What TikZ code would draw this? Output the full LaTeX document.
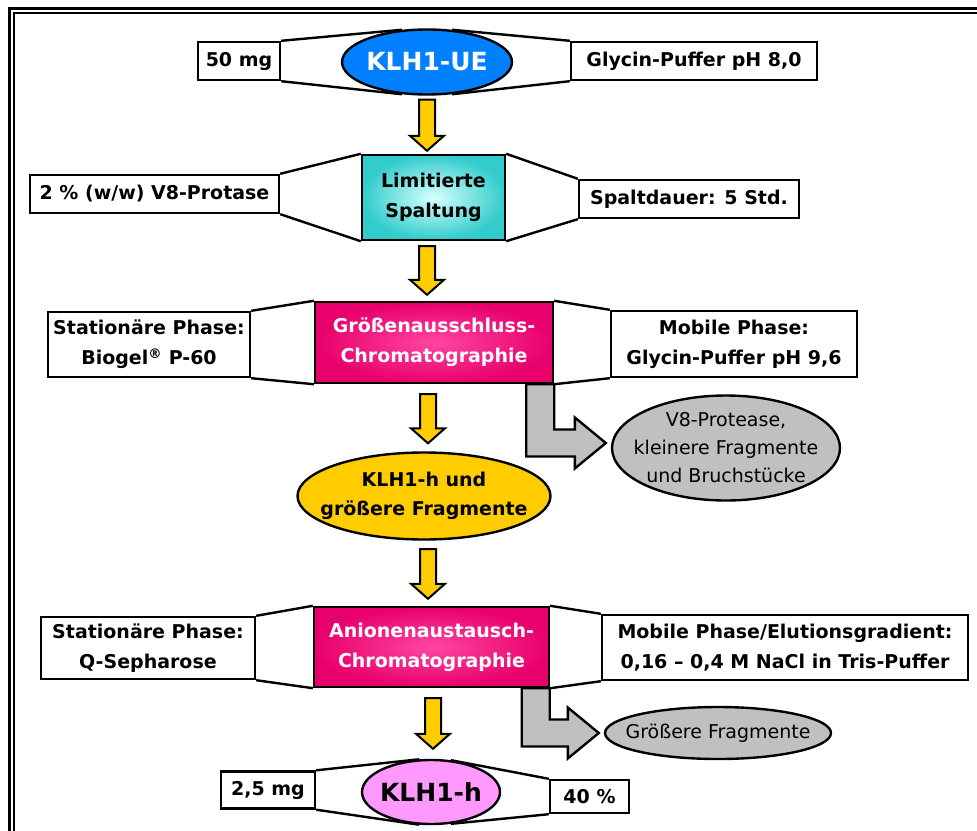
\documentclass[tikz,border=0pt]{standalone}
\usepackage{fontspec}
\setmainfont{DejaVu Sans}
\usepackage{tikz}
\usetikzlibrary{shapes,backgrounds,calc}
\definecolor{klhblue}{RGB}{0,128,255}
\definecolor{tealdark}{RGB}{51,204,204}
\definecolor{teallight}{RGB}{215,255,255}
\definecolor{pinkdark}{RGB}{232,0,108}
\definecolor{pinklight}{RGB}{255,70,160}
\definecolor{gold}{RGB}{255,204,0}
\definecolor{fraggray}{RGB}{192,192,192}
\definecolor{klhpink}{RGB}{255,153,255}

\begin{document}
\begin{tikzpicture}[x=1pt,y=-1pt,
    box/.style={draw,rectangle,line width=2.4pt,fill=white,inner sep=0pt,align=center,font=\bfseries\fontsize{19}{30}\selectfont},
    stage/.style={box,text=white,shading=radial,inner color=pinklight,outer color=pinkdark},
    oval/.style={draw,ellipse,line width=2.4pt,inner sep=-20pt,align=center,font=\bfseries\fontsize{19}{29}\selectfont},
    waste/.style={oval,fill=fraggray,font=\fontsize{19}{28}\selectfont},
    funnel/.style={line width=2.4pt},
    flow/.style={draw,line width=2pt,fill=gold,
        to path={let \p1=(\tikztostart),\p2=(\tikztotarget) in
            (\x1-8pt,\y1) -- (\x1-8pt,\y2+15pt) -- (\x1-17pt,\y2+15pt) -- (\x1,\y2)
            -- (\x1+17pt,\y2+15pt) -- (\x1+8pt,\y2+15pt) -- (\x1+8pt,\y1) -- cycle}},
    outflow/.style={draw,line width=2.4pt,fill=fraggray,
        to path={let \p1=(\tikztostart),\p2=(\tikztotarget) in
            (\x1-14pt,\y1) -- (\x1-14pt,\y2-13.5pt) -- (\x2-31pt,\y2-13.5pt) -- (\x2-31pt,\y2-25.5pt)
            -- (\x2,\y2) -- (\x2-31pt,\y2+25.5pt) -- (\x2-31pt,\y2+13.5pt) -- (\x1+14pt,\y2+13.5pt)
            -- (\x1+14pt,\y1) -- cycle}}]
    \useasboundingbox (0,0) rectangle (977,830);
    \clip (0,0) rectangle (977,830);

    % start material
    \node[box,minimum width=82,minimum height=38] (m50) at (239,61) {50 mg};
    \node[oval,fill=klhblue,text=white,minimum width=170,minimum height=65,font=\bfseries\fontsize{25}{30}\selectfont] (klhue) at (427,62) {KLH1-UE};
    \node[box,minimum width=246,minimum height=38] (glyc8) at (694,61) {Glycin-Puffer pH 8,0};

    % digestion
    \node[box,minimum width=249,minimum height=38] (protase) at (154.5,194) {2 \% (w/w) V8-Protase};
    \node[box,shading=radial,inner color=teallight,outer color=tealdark,minimum width=143,minimum height=85] (spaltung) at (433.5,197.5) {Limitierte\\Spaltung};
    \node[box,minimum width=220,minimum height=38] (spaltdauer) at (689,199) {Spaltdauer: 5 Std.};

    % size exclusion
    \node[box,minimum width=202,minimum height=65] (statbio) at (149,344.5) {Stationäre Phase:\\Biogel\textsuperscript{®} P-60};
    \node[stage,minimum width=238,minimum height=81] (sec) at (434,342.5) {Größenausschluss-\\Chromatographie};
    \node[box,minimum width=246,minimum height=66] (mobglyc) at (734,344) {Mobile Phase:\\Glycin-Puffer pH 9,6};
    \node[waste,minimum width=228,minimum height=105] (v8) at (726,448) {V8-Protease,\\kleinere Fragmente\\und Bruchstücke};
    \node[oval,fill=gold,minimum width=253,minimum height=87] (klhfrag) at (424,496) {KLH1-h und\\größere Fragmente};

    % anion exchange
    \node[box,minimum width=214,minimum height=62] (statq) at (148,648) {Stationäre Phase:\\Q-Sepharose};
    \node[stage,minimum width=235,minimum height=80] (aiex) at (431.5,647) {Anionenaustausch-\\Chromatographie};
    \node[box,minimum width=366,minimum height=65] (mobgrad) at (785,647.5) {Mobile Phase/Elutionsgradient:\\0,16 – 0,4 M NaCl in Tris-Puffer};
    \node[waste,minimum width=226,minimum height=52] (grfrag) at (718,733) {Größere Fragmente};

    % product
    \node[box,minimum width=94,minimum height=37] (m25) at (268,790) {2,5 mg};
    \node[oval,fill=klhpink,minimum width=138,minimum height=64,font=\bfseries\fontsize{25}{30}\selectfont] (klhh) at (431,792) {KLH1-h};
    \node[box,minimum width=79,minimum height=33] (p40) at (589.5,796.5) {40 \%};

    \begin{scope}[on background layer]
        % double frame
        \draw[line width=3pt] (9.5,8) rectangle (1100,1000);
        \draw[line width=2pt] (14,13.3) rectangle (1090,990);
        % funnels
        \draw[funnel] (m50.north east) -- (klhue.128) (m50.south east) -- (klhue.232);
        \draw[funnel] (glyc8.north west) -- (klhue.52) (glyc8.south west) -- (klhue.308);
        \draw[funnel] (protase.north east) -- (spaltung.north west) (protase.south east) -- (spaltung.south west);
        \draw[funnel] (spaltdauer.north west) -- (spaltung.north east) (spaltdauer.south west) -- (spaltung.south east);
        \draw[funnel] (statbio.north east) -- (sec.north west) (statbio.south east) -- (sec.south west);
        \draw[funnel] (mobglyc.north west) -- (sec.north east) (mobglyc.south west) -- (sec.south east);
        \draw[funnel] (statq.north east) -- (aiex.north west) (statq.south east) -- (aiex.south west);
        \draw[funnel] (mobgrad.north west) -- (aiex.north east) (mobgrad.south west) -- (aiex.south east);
        \draw[funnel] (m25.north east) -- (klhh.110) (m25.south east) -- (klhh.250);
        \draw[funnel] (p40.north west) -- (klhh.58) (p40.south west) -- (klhh.302);
        % side streams
        \path[outflow] ([xshift=-14pt]sec.south east) to ([xshift=-5pt,yshift=5pt]v8.west);
        \path[outflow] ([xshift=-14.5pt]aiex.south east) to ([xshift=-5pt]grfrag.west);
    \end{scope}

    % main flow
    \path[flow] ([yshift=-4pt]klhue.south) to ([yshift=3pt]spaltung.north);
    \path[flow] ([xshift=-6.5pt,yshift=-5pt]spaltung.south) to ([yshift=6pt]sec.north);
    \path[flow] ([xshift=-6pt,yshift=-10pt]sec.south) to ([yshift=8pt]klhfrag.north);
    \path[flow] ([xshift=4pt,yshift=-8.5pt]klhfrag.south) to ([yshift=7pt]aiex.north);
    \path[flow] ([xshift=1.5pt,yshift=-10pt]aiex.south) to ([yshift=10pt]klhh.north);
\end{tikzpicture}
\end{document}
